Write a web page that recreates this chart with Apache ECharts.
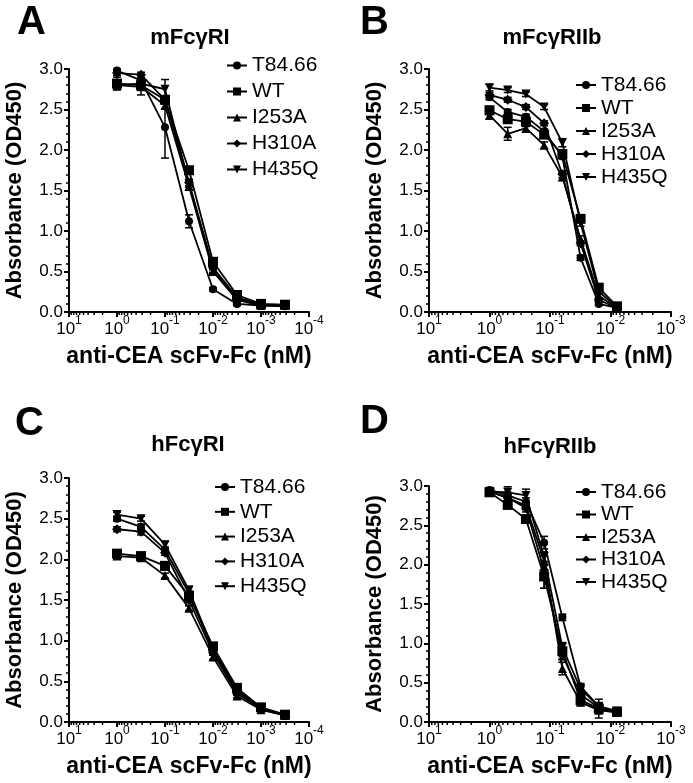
<!DOCTYPE html>
<html><head><meta charset="utf-8">
<script src="https://cdn.jsdelivr.net/npm/echarts@6/dist/echarts.min.js"></script>
<style>html,body{margin:0;padding:0;background:#fff}#c{width:693px;height:783px}</style>
</head><body><div id="c"></div><script>
// ---- data ----
const groups = ['T84.66', 'WT', 'I253A', 'H310A', 'H435Q'];
const doseHalfLog = [1, 0.316, 0.1, 0.0316, 0.01, 0.00316, 0.001, 0.000316];
const dose2fold = [1, 0.5, 0.25, 0.125, 0.0625, 0.03125, 0.015625, 0.0078125];
const xTicksAC = [10, 1, 0.1, 0.01, 0.001, 0.0001];
const xTicksBD = [10, 1, 0.1, 0.01, 0.001];
const yTicks = [0.0, 0.5, 1.0, 1.5, 2.0, 2.5, 3.0];

// Panel A: mFcγRI
const A_T8466 = [2.98, 2.86, 2.28, 1.12, 0.28, 0.10, 0.08, 0.07];
const A_WT    = [2.82, 2.80, 2.62, 1.75, 0.62, 0.21, 0.10, 0.09];
const A_I253A = [2.80, 2.78, 2.55, 1.55, 0.50, 0.15, 0.08, 0.08];
const A_H310A = [2.95, 2.93, 2.62, 1.60, 0.55, 0.18, 0.09, 0.08];
const A_H435Q = [2.80, 2.82, 2.75, 1.58, 0.52, 0.16, 0.09, 0.08];
const A_T8466_err = [0.02, 0.02, 0.38, 0.08, 0.02, 0.02, 0.02, 0.02];
const A_WT_err    = [0.08, 0.04, 0.05, 0.04, 0.03, 0.02, 0.02, 0.02];
const A_I253A_err = [0.04, 0.10, 0.04, 0.04, 0.03, 0.02, 0.02, 0.02];
const A_H310A_err = [0.03, 0.03, 0.04, 0.04, 0.03, 0.02, 0.02, 0.02];
const A_H435Q_err = [0.03, 0.03, 0.12, 0.04, 0.03, 0.02, 0.02, 0.02];

// Panel B: mFcγRIIb
const B_T8466 = [2.65, 2.47, 2.41, 2.23, 1.92, 0.67, 0.10, 0.05];
const B_WT    = [2.49, 2.38, 2.35, 2.19, 1.95, 1.15, 0.30, 0.07];
const B_I253A = [2.43, 2.20, 2.27, 2.06, 1.67, 0.90, 0.20, 0.05];
const B_H310A = [2.68, 2.62, 2.53, 2.33, 1.70, 0.85, 0.15, 0.05];
const B_H435Q = [2.77, 2.74, 2.69, 2.53, 2.09, 1.10, 0.25, 0.06];
const B_T8466_err = [0.03, 0.03, 0.03, 0.03, 0.03, 0.03, 0.02, 0.02];
const B_WT_err    = [0.05, 0.05, 0.06, 0.04, 0.04, 0.04, 0.03, 0.02];
const B_I253A_err = [0.05, 0.08, 0.05, 0.04, 0.05, 0.04, 0.03, 0.02];
const B_H310A_err = [0.03, 0.03, 0.03, 0.03, 0.04, 0.03, 0.02, 0.02];
const B_H435Q_err = [0.04, 0.03, 0.03, 0.03, 0.05, 0.04, 0.03, 0.02];

// Panel C: hFcγRI
const C_T8466 = [2.50, 2.40, 2.12, 1.58, 0.88, 0.38, 0.16, 0.08];
const C_WT    = [2.07, 2.04, 1.92, 1.55, 0.93, 0.42, 0.18, 0.09];
const C_I253A = [2.04, 2.02, 1.80, 1.40, 0.80, 0.32, 0.15, 0.08];
const C_H310A = [2.37, 2.34, 2.08, 1.50, 0.85, 0.35, 0.16, 0.08];
const C_H435Q = [2.55, 2.50, 2.18, 1.62, 0.90, 0.40, 0.17, 0.09];
const C_T8466_err = [0.03, 0.03, 0.03, 0.03, 0.03, 0.02, 0.02, 0.02];
const C_WT_err    = [0.04, 0.03, 0.05, 0.04, 0.03, 0.02, 0.02, 0.02];
const C_I253A_err = [0.03, 0.03, 0.03, 0.03, 0.03, 0.02, 0.02, 0.02];
const C_H310A_err = [0.03, 0.04, 0.03, 0.03, 0.03, 0.02, 0.02, 0.02];
const C_H435Q_err = [0.03, 0.03, 0.04, 0.05, 0.03, 0.02, 0.02, 0.02];

// Panel D: hFcγRIIb
const D_T8466 = [2.95, 2.88, 2.80, 2.28, 1.33, 0.45, 0.20, 0.13];
const D_WT    = [2.92, 2.76, 2.58, 1.85, 0.90, 0.28, 0.17, 0.13];
const D_I253A = [2.93, 2.85, 2.75, 2.05, 0.68, 0.25, 0.15, 0.12];
const D_H310A = [2.93, 2.85, 2.72, 1.93, 0.85, 0.35, 0.18, 0.13];
const D_H435Q = [2.93, 2.92, 2.88, 2.10, 0.95, 0.42, 0.20, 0.14];
const D_T8466_err = [0.03, 0.04, 0.05, 0.08, 0.04, 0.04, 0.03, 0.02];
const D_WT_err    = [0.03, 0.05, 0.04, 0.15, 0.10, 0.04, 0.12, 0.02];
const D_I253A_err = [0.03, 0.04, 0.05, 0.06, 0.08, 0.04, 0.03, 0.02];
const D_H310A_err = [0.03, 0.04, 0.05, 0.23, 0.06, 0.04, 0.03, 0.02];
const D_H435Q_err = [0.03, 0.07, 0.08, 0.06, 0.06, 0.05, 0.03, 0.02];

// ---- layout / style ----
const FONT = '"Liberation Sans", Arial, sans-serif';
const symbols = ['circle', 'rect', 'triangle', 'diamond', 'path://M0,0 L10,0 L5,10 Z'];
const symbolSizes = [8, 10, 9, 10, 9];

const panels = [
  { letter: 'A', title: 'mFcγRI', doses: doseHalfLog, xmin: 0.0001, xmax: 10, ticks: xTicksAC,
    grid: { left: 69, top: 69, width: 240, height: 243 },
    vals: [A_T8466, A_WT, A_I253A, A_H310A, A_H435Q], errs: [A_T8466_err, A_WT_err, A_I253A_err, A_H310A_err, A_H435Q_err],
    titleXY: [190, 27], letterXY: [17, 3], legend: { left: 226, top: 55, gap: 5 } },
  { letter: 'B', title: 'mFcγRIIb', doses: dose2fold, xmin: 0.001, xmax: 10, ticks: xTicksBD,
    grid: { left: 429, top: 69, width: 242, height: 243 },
    vals: [B_T8466, B_WT, B_I253A, B_H310A, B_H435Q], errs: [B_T8466_err, B_WT_err, B_I253A_err, B_H310A_err, B_H435Q_err],
    titleXY: [552, 27], letterXY: [360, 3], legend: { left: 575, top: 74.5, gap: 2 } },
  { letter: 'C', title: 'hFcγRI', doses: doseHalfLog, xmin: 0.0001, xmax: 10, ticks: xTicksAC,
    grid: { left: 69, top: 478, width: 240, height: 244 },
    vals: [C_T8466, C_WT, C_I253A, C_H310A, C_H435Q], errs: [C_T8466_err, C_WT_err, C_I253A_err, C_H310A_err, C_H435Q_err],
    titleXY: [188, 434], letterXY: [15, 404], legend: { left: 214, top: 476.5, gap: 3.8 } },
  { letter: 'D', title: 'hFcγRIIb', doses: dose2fold, xmin: 0.001, xmax: 10, ticks: xTicksBD,
    grid: { left: 429, top: 486, width: 242, height: 236 },
    vals: [D_T8466, D_WT, D_I253A, D_H310A, D_H435Q], errs: [D_T8466_err, D_WT_err, D_I253A_err, D_H310A_err, D_H435Q_err],
    titleXY: [550, 436], letterXY: [360, 402], legend: { left: 575, top: 481.5, gap: 1.5 } }
];

const chart = echarts.init(document.getElementById('c'), null, { renderer: 'canvas' });

const grids = [], xAxes = [], yAxes = [], series = [], titles = [], legends = [];

panels.forEach((p, i) => {
  grids.push(Object.assign({ containLabel: false }, p.grid));
  xAxes.push({
    type: 'log', logBase: 10, gridIndex: i, inverse: true, min: p.xmin, max: p.xmax,
    axisLine: { show: true, onZero: false, lineStyle: { color: '#000', width: 2 } },
    axisTick: { show: true, length: 5, lineStyle: { color: '#000', width: 2 } },
    splitLine: { show: false },
    axisLabel: {
      margin: 3, color: '#000',
      formatter: v => '{b|10}{s|' + Math.round(Math.log10(v)) + '}',
      rich: {
        b: { fontSize: 17, fontFamily: FONT, color: '#000', verticalAlign: 'bottom' },
        s: { fontSize: 12, fontFamily: FONT, color: '#000', verticalAlign: 'top', lineHeight: 23 }
      }
    },
    name: 'anti-CEA scFv-Fc (nM)', nameLocation: 'middle', nameGap: 33,
    nameTextStyle: { fontSize: 23, fontWeight: 'bold', fontFamily: FONT, color: '#000' }
  });
  yAxes.push({
    type: 'value', gridIndex: i, min: yTicks[0], max: yTicks[yTicks.length - 1], interval: 0.5,
    axisLine: { show: true, lineStyle: { color: '#000', width: 2 } },
    axisTick: { show: true, length: 5, lineStyle: { color: '#000', width: 2 } },
    minorTick: { show: true, splitNumber: 5, length: 3, lineStyle: { color: '#000', width: 1.5 } },
    splitLine: { show: false },
    axisLabel: { margin: 6, fontSize: 17, fontFamily: FONT, color: '#000', formatter: v => v.toFixed(1) },
    name: 'Absorbance (OD450)', nameLocation: 'middle', nameGap: 43,
    nameTextStyle: { fontSize: 22, fontWeight: 'bold', fontFamily: FONT, color: '#000' }
  });
  titles.push({ text: p.title, left: p.titleXY[0], top: p.titleXY[1], textAlign: 'center', padding: 0,
    textStyle: { fontSize: 22, fontWeight: 'bold', fontFamily: FONT, color: '#000' } });
  titles.push({ text: p.letter, left: p.letterXY[0], top: p.letterXY[1], padding: 0,
    textStyle: { fontSize: 40, fontWeight: 'bold', fontFamily: FONT, color: '#000' } });
  legends.push({
    orient: 'vertical', left: p.legend.left, top: p.legend.top, itemGap: p.legend.gap, padding: 0,
    itemWidth: 20, itemHeight: 10, selectedMode: false, data: groups,
    textStyle: { fontSize: 21, fontFamily: FONT, color: '#000' }
  });

  // minor ticks on log axis (2..9 x 10^n)
  const minor = [];
  for (let e = Math.round(Math.log10(p.xmin)); e < Math.round(Math.log10(p.xmax)); e++) {
    for (let k = 2; k <= 9; k++) minor.push([k * Math.pow(10, e), 0]);
  }
  series.push({
    type: 'custom', name: '_minor' + i, xAxisIndex: i, yAxisIndex: i, silent: true, clip: false, z: 5,
    data: minor, encode: { x: 0, y: 1 },
    renderItem: (params, api) => {
      const c = api.coord([api.value(0), 0]);
      return { type: 'line', shape: { x1: c[0], y1: c[1], x2: c[0], y2: c[1] + 3 },
        style: { stroke: '#000', lineWidth: 1.5 } };
    }
  });

  groups.forEach((g, j) => {
    const pts = p.doses.map((d, k) => [d, p.vals[j][k]]);
    series.push({
      type: 'line', name: g, xAxisIndex: i, yAxisIndex: i, data: pts,
      symbol: symbols[j], symbolSize: symbolSizes[j], showSymbol: true,
      lineStyle: { color: '#000', width: 1.8 }, itemStyle: { color: '#000', borderWidth: 0 },
      animation: false, z: 3
    });
    const eb = p.doses.map((d, k) => [d, p.vals[j][k], p.errs[j][k]]);
    series.push({
      type: 'custom', name: '_err' + i + '_' + j, xAxisIndex: i, yAxisIndex: i, silent: true, z: 2,
      data: eb, encode: { x: 0, y: 1 },
      renderItem: (params, api) => {
        const x = api.value(0), y = api.value(1), e = api.value(2);
        const hi = api.coord([x, y + e]), lo = api.coord([x, Math.max(0, y - e)]);
        const w = 4;
        return { type: 'group', children: [
          { type: 'line', shape: { x1: hi[0], y1: hi[1], x2: lo[0], y2: lo[1] }, style: { stroke: '#000', lineWidth: 1.5 } },
          { type: 'line', shape: { x1: hi[0] - w, y1: hi[1], x2: hi[0] + w, y2: hi[1] }, style: { stroke: '#000', lineWidth: 1.5 } },
          { type: 'line', shape: { x1: lo[0] - w, y1: lo[1], x2: lo[0] + w, y2: lo[1] }, style: { stroke: '#000', lineWidth: 1.5 } }
        ] };
      }
    });
  });
});

chart.setOption({
  backgroundColor: '#fff',
  animation: false,
  title: titles,
  legend: legends,
  grid: grids,
  xAxis: xAxes,
  yAxis: yAxes,
  series: series
});
</script></body></html>
